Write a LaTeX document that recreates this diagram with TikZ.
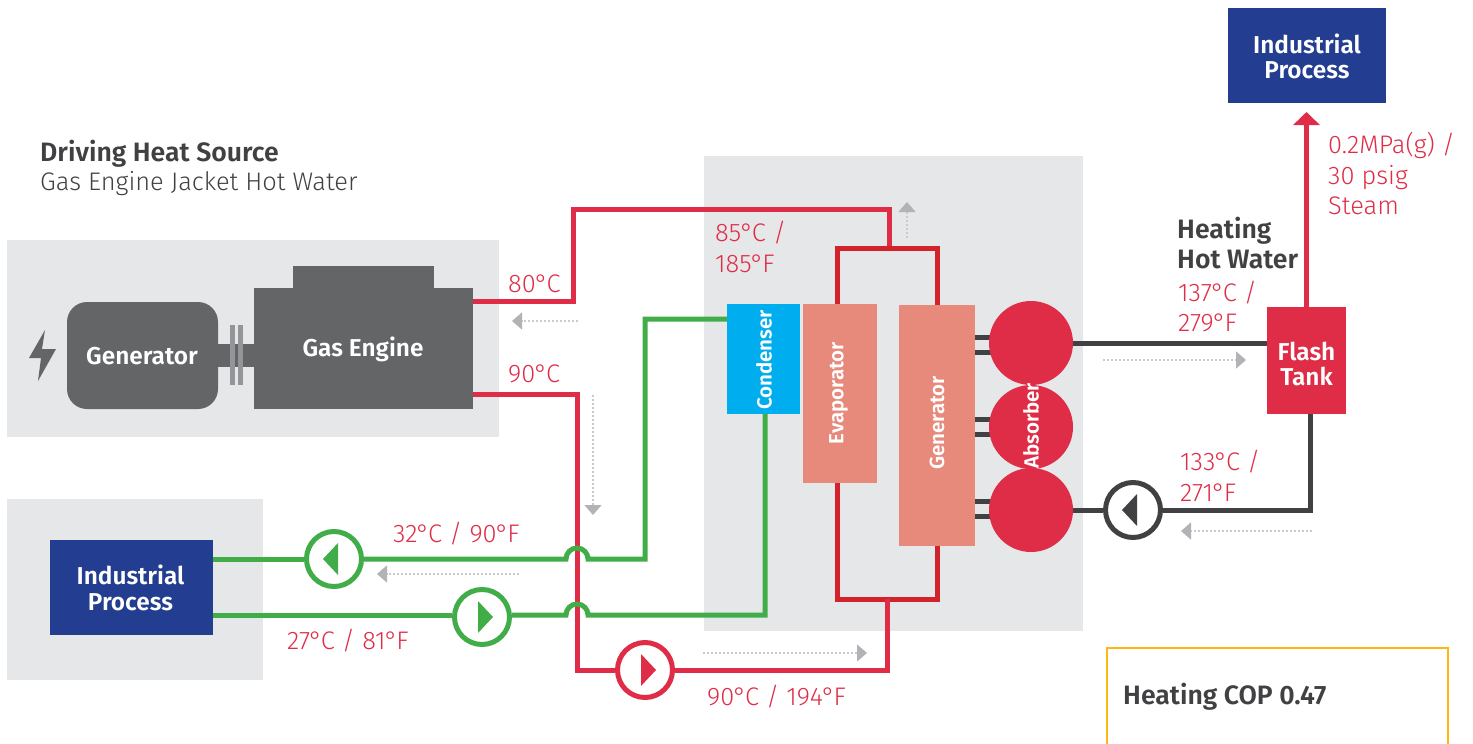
\documentclass[tikz,border=0pt]{standalone}
\usepackage{fontspec}
\setmainfont{Fira Sans}
\newfontfamily\lightface{Fira Sans Light}
\newfontfamily\mediumface{Fira Sans SemiBold}
\usetikzlibrary{arrows.meta}

\newcommand{\dg}{\kern-1pt°\kern-1.5pt}

\definecolor{panelgray}{HTML}{E6E7E8}
\definecolor{enginegray}{HTML}{646567}
\definecolor{couplegray}{HTML}{939598}
\definecolor{flowgray}{HTML}{B1B3B6}
\definecolor{darkpipe}{HTML}{414042}
\definecolor{hotred}{HTML}{DF2C47}
\definecolor{looped}{HTML}{D2232A}
\definecolor{salmon}{HTML}{E78A7B}
\definecolor{cyanbox}{HTML}{00AEEF}
\definecolor{pipegreen}{HTML}{40AD49}
\definecolor{navybox}{HTML}{233E90}
\definecolor{copyellow}{HTML}{FDB813}

\tikzset{
  panel/.style={fill=panelgray, inner sep=0pt, outer sep=0pt, anchor=north west},
  unit/.style={inner sep=0pt, outer sep=0pt, anchor=north west, text=white,
    align=center, font=\fontsize{24}{25.5}\selectfont\mediumface},
  unittext/.style={inner sep=0pt, text=white, align=center,
    font=\fontsize{24.4}{25.5}\selectfont\mediumface},
  sideways/.style={inner sep=0pt, rotate=90, text=white,
    font=\fontsize{20.5}{24}\selectfont\mediumface},
  pipe/.style={line width=5pt},
  pump/.style={circle, draw=#1, line width=5pt, fill=white, inner sep=0pt, minimum size=55pt},
  temp/.style={inner sep=0pt, anchor=west, align=left, text=hotred,
    font=\fontsize{25.4}{30.5}\selectfont\lightface},
  head/.style={inner sep=0pt, anchor=west, align=left, text=darkpipe,
    font=\fontsize{26.6}{30.5}\selectfont\mediumface},
  flow/.style={flowgray!70, line width=1.5pt, dash pattern=on 2pt off 2pt,
    -{Triangle[length=10pt,width=17pt,color=flowgray]}},
}

\begin{document}
\begin{tikzpicture}[x=1pt, y=-1pt]

\clip (0,0) rectangle (1473,744);

% panels
\node[panel, minimum width=492pt, minimum height=197pt] (enginepanel) at (7,240) {};
\node[panel, minimum width=256pt, minimum height=181pt] (processpanel) at (7,499) {};
\node[panel, minimum width=379pt, minimum height=475pt] (chillerpanel) at (704,156) {};

% engine side
\fill[enginegray] (45,330) -- (29,358) -- (41,358) -- (38,381) -- (56,349) -- (42,349) -- cycle;
\node[unit, fill=enginegray, rounded corners=20pt, minimum width=151pt, minimum height=107pt] (generator) at (67,302) {};
\node[unittext] (generatortext) at (142,356.5) {Generator};
\node[unit, fill=enginegray, minimum width=219pt, minimum height=121pt] (engine) at (254,288) {};
\node[unit, fill=enginegray, minimum width=141pt, minimum height=22pt] (enginetop) at (293,266) {};
\node[unittext] (enginetext) at (363,349) {Gas Engine};
\fill[enginegray] (generator.east |- 0,344) rectangle (engine.west |- 0,367);
\fill[couplegray] (230,325) rectangle (235,385);
\fill[couplegray] (237.5,325) rectangle (243,385);

% chiller
\node[unit, fill=cyanbox, minimum width=73pt, minimum height=110pt] (condenser) at (727,304) {};
\node[unit, fill=salmon, minimum width=74pt, minimum height=179pt] (evaporator) at (803,304) {};
\node[unit, fill=salmon, minimum width=76pt, minimum height=241pt] (generatorb) at (899,305) {};
\foreach \y in {337,352,419,434,501,516}
  \draw[darkpipe, pipe] (generatorb.east |- 0,\y) -- (994,\y);
\foreach \n/\y in {absa/343, absb/427, absc/510}
  \node[circle, fill=hotred, inner sep=0pt, outer sep=0pt, minimum size=84pt] (\n) at (1031,\y) {};
\node[sideways] (condtext) at (764,360) {Condenser};
\node[sideways] (evaptext) at (838.5,393) {Evaporator};
\node[sideways] (gentext) at (937,423) {Generator};
\node[sideways] (abstext) at (1031,426) {Absorber};

% process boxes
\node[unit, fill=navybox, minimum width=163pt, minimum height=95pt] (process) at (50,540) {};
\node[unittext] (processtext) at (130.5,588) {Industrial\\Process};
\node[unit, fill=navybox, minimum width=158pt, minimum height=95pt] (topprocess) at (1228,8) {};
\node[unittext] (topprocesstext) at (1307,56.5) {Industrial\\Process};
\node[unit, fill=hotred, minimum width=79pt, minimum height=107pt] (flash) at (1267,307) {};
\node[unittext] (flashtext) at (1306.5,364) {Flash\\Tank};
\node[inner sep=0pt, outer sep=0pt, anchor=north west, draw=copyellow, line width=2.5pt, minimum width=341pt, minimum height=130pt] (copbox) at (1107,648) {};

% pumps
\node[pump=pipegreen] (pumpa) at (334,559) {};
\node[pump=pipegreen] (pumpb) at (482,617) {};
\node[pump=hotred] (pumpc) at (645,670) {};
\node[pump=darkpipe] (pumpd) at (1133,510) {};
\foreach \p/\c/\d in {pumpa/pipegreen/-1, pumpb/pipegreen/1, pumpc/hotred/1, pumpd/darkpipe/-1}
  \fill[\c] ([xshift=\d*11pt]\p.center) -- ([shift={(\d*-4pt,-16pt)}]\p.center) -- ([shift={(\d*-4pt,16pt)}]\p.center) -- cycle;

% hot water
\draw[hotred, pipe] (engine.east |- 0,301) -- (573,301) -- (573,209) -- (889,209) -- (889,248);
\draw[looped, pipe] (evaporator.north -| 837,0) -- (837,248) -- (937,248) -- (generatorb.north -| 937,0);
\draw[looped, pipe] (evaporator.south -| 837,0) -- (837,599) -- (937,599) -- (generatorb.south -| 937,0);
\draw[hotred, pipe] (engine.east |- 0,394) -- (577,394) -- (577,670) -- (pumpc.west);
\draw[hotred, pipe] (pumpc.east) -- (887,670) -- (887,599);

% cooling water
\draw[pipegreen, pipe] (process.east |- pumpa) -- (pumpa.west);
\draw[pipegreen, pipe] (pumpa.east) -- (566,559) arc (180:360:11) -- (645,559) -- (645,319) -- (condenser.west |- 0,319);
\draw[pipegreen, pipe] (process.east |- 0,615) -- (pumpb.west |- 0,615);
\draw[pipegreen, pipe] (pumpb.east |- 0,615) -- (566,615) arc (180:360:11) -- (765,615) -- (condenser.south -| 765,0);

% heating side
\draw[darkpipe, pipe] (absa.east) -- (flash.west |- absa.east);
\draw[darkpipe, pipe] ([xshift=3.5pt]flash.south) -- ([xshift=3.5pt]flash.south |- pumpd.east) -- (pumpd.east);
\draw[darkpipe, pipe] (pumpd.west) -- (absc.east);
\draw[hotred, pipe, shorten >=9pt, -{Triangle[length=13pt,width=26pt]}] (flash.north) -- (flash.north |- topprocess.south);

% flow marks
\foreach \n/\xa/\ya/\xb/\yb in {a/578/321/512/321, b/593/395/593/515, c/519/574/377/574, d/703/653/867/653, e/907/238/907/202, f/1103/360/1246/360, g/1312/531/1181/531} {
  \coordinate (flow\n s) at (\xa,\ya);
  \coordinate (flow\n e) at (\xb,\yb);
  \draw[flow] (flow\n s) -- (flow\n e);
}

% labels
\node[head, text=darkpipe] (drivinghead) at (40,154) {Driving Heat Source};
\node[temp, text=darkpipe] (drivingtext) at (40,184) {Gas Engine Jacket Hot Water};
\node[temp] (tempa) at (508,284) {80\dg C};
\node[temp] (tempb) at (508,374) {90\dg C};
\node[temp] (tempc) at (715,247) {85\dg C /\\185\dg F};
\node[temp] (tempd) at (393,534) {32\dg C / 90\dg F};
\node[temp] (tempe) at (287,641) {27\dg C / 81\dg F};
\node[temp] (tempf) at (707,697) {90\dg C / 194\dg F};
\node[head] (heatinghead) at (1177,243) {Heating\\Hot Water};
\node[temp] (tempg) at (1178,306.5) {137\dg C /\\279\dg F};
\node[temp] (temph) at (1180,476) {133\dg C /\\271\dg F};
\node[temp] (steam) at (1328,174) {0.2MPa(g) /\\30 psig\\Steam};
\node[head] (coptext) at (1123,697) {Heating COP 0.47};

\end{tikzpicture}
\end{document}
